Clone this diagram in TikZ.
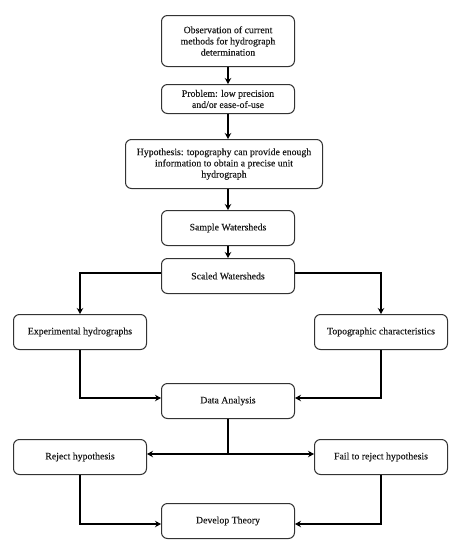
\documentclass[tikz,border=0pt]{standalone}
\usepackage{fontspec}
\setmainfont{Liberation Serif}[FakeBold=0.25]
\usetikzlibrary{arrows.meta}
\begin{document}
\begin{tikzpicture}[x=1pt,y=-1pt,
  box/.style={draw=black!80,line width=1pt,rounded corners=6pt,align=center,
    font=\fontsize{9.8}{11.2}\selectfont,inner sep=2pt,text=black!90},
  conn/.style={line width=2pt,-{Stealth[length=6pt,width=6.5pt]}},
  plain/.style={line width=2pt}]
\useasboundingbox (0,0) rectangle (461,550);
\node[box,minimum width=133pt,minimum height=51pt] (obs) at (228,41) {Observation of current\\methods for hydrograph\\determination};
\node[box,minimum width=133pt,minimum height=29pt] (prob) at (228,99) {Problem: low precision\\and/or ease-of-use};
\node[box,minimum width=197pt,minimum height=49pt] (hyp) at (224,164) {Hypothesis: topography can provide enough\\information to obtain a precise unit\\hydrograph};
\node[box,minimum width=133pt,minimum height=35pt] (sample) at (228,228) {Sample Watersheds};
\node[box,minimum width=133pt,minimum height=35pt] (scaled) at (228,276) {Scaled Watersheds};
\node[box,minimum width=133pt,minimum height=35pt] (exp) at (80,332) {Experimental hydrographs};
\node[box,minimum width=133pt,minimum height=35pt] (topo) at (381,332) {Topographic characteristics};
\node[box,minimum width=133pt,minimum height=35pt] (da) at (228,401) {Data Analysis};
\node[box,minimum width=133pt,minimum height=35pt] (rej) at (80,457) {Reject hypothesis};
\node[box,minimum width=133pt,minimum height=35pt] (fail) at (381,457) {Fail to reject hypothesis};
\node[box,minimum width=133pt,minimum height=35pt] (dt) at (228,521) {Develop Theory};
\draw[conn] (obs) -- (obs |- prob.north);
\draw[conn] (prob.south) -- (prob.south |- hyp.north);
\draw[conn] (sample.north |- hyp.south) -- (sample.north);
\draw[conn] (sample) -- (scaled);
\draw[conn] ([yshift=3pt]scaled.west) -| (exp.north);
\draw[conn] ([yshift=3pt]scaled.east) -| (topo.north);
\draw[conn] (exp.south) |- ([yshift=3pt]da.west);
\draw[conn] (topo.south) |- ([yshift=3pt]da.east);
\coordinate (j) at ([yshift=3pt]da.south |- rej.east);
\draw[plain] (da.south) -- (j);
\draw[conn] (j) -- ([yshift=3pt]rej.east);
\draw[conn] (j) -- ([yshift=3pt]fail.west);
\draw[conn] (rej.south) |- ([yshift=-3pt]dt.west);
\draw[conn] (fail.south) |- ([yshift=-3pt]dt.east);
\end{tikzpicture}
\end{document}
